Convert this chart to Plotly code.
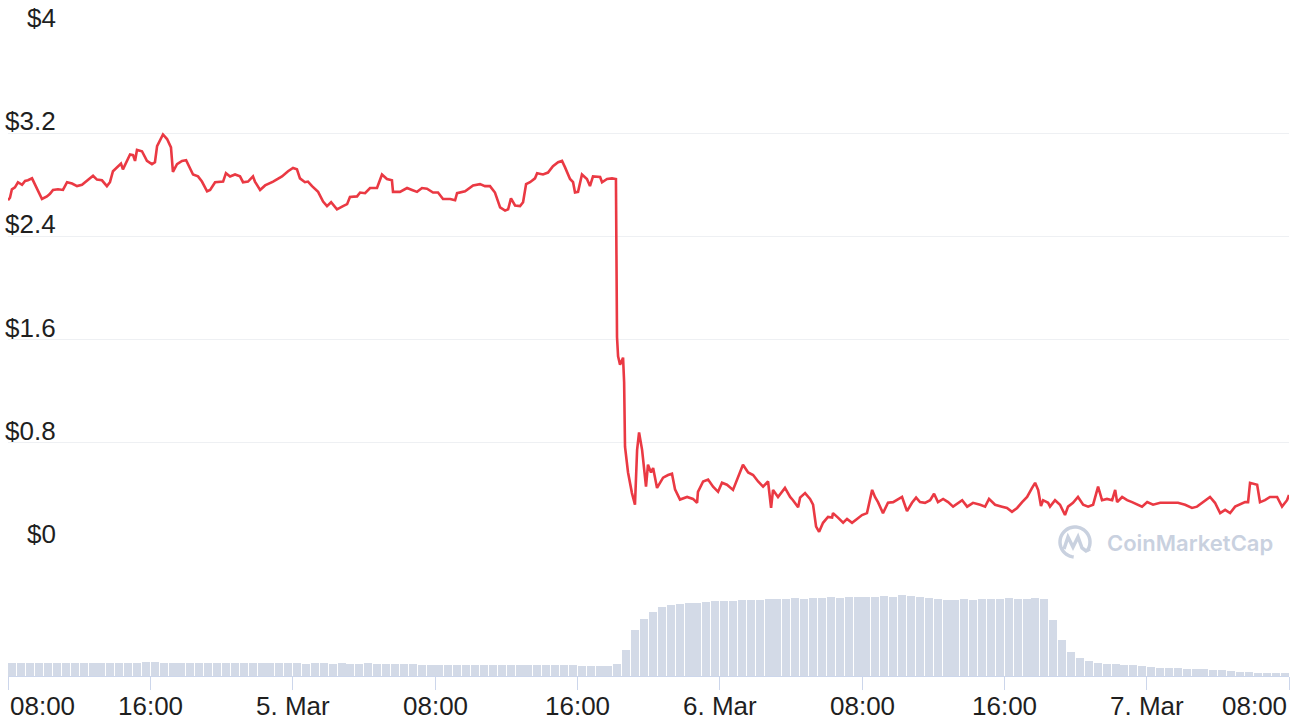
import math
import pandas as pd
import plotly.graph_objects as go

# ---------------- data ----------------
start_time = "2024-03-04 08:00"

price_hours = [
    0.00, 0.11, 0.22, 0.39, 0.56, 0.79, 0.96, 1.12, 1.35, 1.52, 1.69, 1.91, 2.19, 2.36, 2.53, 2.81,
    3.09, 3.32, 3.60, 3.88, 4.16, 4.50, 4.78, 5.00, 5.28, 5.56, 5.73, 5.90, 6.13, 6.35, 6.46, 6.63,
    6.86, 7.03, 7.14, 7.25, 7.53, 7.81, 8.09, 8.26, 8.38, 8.71, 8.94, 9.16, 9.27, 9.50, 9.78, 10.01,
    10.23, 10.40, 10.68, 10.90, 11.19, 11.36, 11.64, 11.92, 12.09, 12.25, 12.48, 12.76, 13.04, 13.21,
    13.49, 13.77, 13.88, 14.17, 14.45, 14.90, 15.40, 15.74, 16.02, 16.24, 16.41, 16.69, 16.86, 17.09,
    17.43, 17.71, 17.93, 18.16, 18.49, 18.83, 19.06, 19.22, 19.62, 19.79, 20.07, 20.35, 20.74, 21.02,
    21.30, 21.58, 21.64, 22.03, 22.43, 22.71, 22.99, 23.27, 23.55, 23.89, 24.17, 24.45, 24.85, 25.13,
    25.24, 25.69, 25.97, 26.14, 26.53, 26.81, 27.09, 27.37, 27.66, 27.94, 28.11, 28.27, 28.50, 28.78,
    28.95, 29.12, 29.34, 29.62, 29.74, 30.07, 30.35, 30.63, 30.92, 31.14, 31.31, 31.59, 31.76, 31.87,
    32.04, 32.26, 32.54, 32.71, 32.88, 33.28, 33.39, 33.67, 33.95, 34.17, 34.23, 34.29, 34.40, 34.57,
    34.63, 34.68, 34.85, 35.07, 35.24, 35.36, 35.47, 35.64, 35.86, 35.97, 36.14, 36.26, 36.48, 36.82,
    37.10, 37.32, 37.49, 37.77, 38.17, 38.50, 38.73, 38.78, 39.07, 39.35, 39.63, 39.91, 40.13, 40.41,
    40.75, 40.98, 41.31, 41.60, 41.88, 42.16, 42.44, 42.72, 42.89, 43.00, 43.28, 43.67, 43.96, 44.12,
    44.41, 44.52, 44.80, 45.08, 45.25, 45.42, 45.59, 45.81, 46.09, 46.32, 46.37, 46.65, 46.94, 47.16,
    47.44, 47.72, 48.00, 48.28, 48.57, 48.73, 48.90, 49.18, 49.46, 49.75, 50.03, 50.25, 50.53, 50.81,
    51.04, 51.26, 51.54, 51.83, 52.05, 52.27, 52.56, 52.84, 53.12, 53.40, 53.63, 53.91, 54.24, 54.64,
    54.92, 55.14, 55.48, 55.87, 56.15, 56.43, 56.72, 57.00, 57.28, 57.56, 57.73, 57.90, 58.06, 58.18,
    58.46, 58.57, 58.85, 59.13, 59.41, 59.58, 59.86, 60.14, 60.43, 60.71, 60.99, 61.27, 61.49, 61.77,
    62.06, 62.23, 62.34, 62.62, 62.90, 63.18, 63.46, 63.74, 64.03, 64.36, 64.76, 65.15, 65.43, 65.76,
    66.16, 66.55, 66.83, 67.17, 67.56, 67.84, 68.13, 68.41, 68.69, 68.97, 69.25, 69.53, 69.70, 69.81,
    70.21, 70.37, 70.65, 70.93, 71.33, 71.61, 71.89, 72.00,
]

price_usd = [
    2.68, 2.70, 2.765, 2.78, 2.82, 2.80, 2.83, 2.835, 2.85, 2.80, 2.75, 2.69, 2.71, 2.73, 2.76, 2.765,
    2.76, 2.82, 2.81, 2.79, 2.80, 2.84, 2.87, 2.84, 2.835, 2.79, 2.82, 2.905, 2.935, 2.965, 2.92, 2.975,
    3.035, 3.03, 2.985, 3.07, 3.06, 2.985, 2.96, 2.975, 3.10, 3.19, 3.155, 3.09, 2.90, 2.96, 2.985, 2.99,
    2.92, 2.88, 2.865, 2.825, 2.75, 2.76, 2.82, 2.82, 2.825, 2.89, 2.865, 2.88, 2.865, 2.82,
    2.825, 2.865, 2.825, 2.76, 2.795, 2.825, 2.865, 2.905, 2.93, 2.92, 2.85, 2.82, 2.825, 2.79,
    2.745, 2.67, 2.635, 2.665, 2.61, 2.635, 2.65, 2.705, 2.71, 2.74, 2.735, 2.775, 2.775, 2.88,
    2.845, 2.835, 2.745, 2.745, 2.775, 2.76, 2.745, 2.775, 2.77, 2.74, 2.74, 2.69, 2.69, 2.68,
    2.735, 2.75, 2.775, 2.795, 2.805, 2.79, 2.79, 2.74, 2.625, 2.60, 2.61, 2.695, 2.64, 2.635,
    2.665, 2.805, 2.82, 2.85, 2.89, 2.88, 2.895, 2.945, 2.975, 2.985, 2.935, 2.845, 2.82, 2.74,
    2.745, 2.88, 2.845, 2.79, 2.865, 2.86, 2.82, 2.845, 2.85, 2.845, 1.62, 1.47, 1.405, 1.46,
    1.27, 0.77, 0.57, 0.41, 0.32, 0.745, 0.88, 0.745, 0.46, 0.63, 0.57, 0.605, 0.45, 0.53,
    0.55, 0.56, 0.44, 0.36, 0.38, 0.365, 0.335, 0.42, 0.50, 0.515, 0.46, 0.42, 0.49, 0.475,
    0.435, 0.51, 0.63, 0.57, 0.55, 0.50, 0.46, 0.50, 0.295, 0.435, 0.38, 0.45, 0.38, 0.355,
    0.30, 0.375, 0.41, 0.365, 0.32, 0.15, 0.11, 0.18, 0.225, 0.22, 0.255, 0.22, 0.18, 0.21,
    0.18, 0.21, 0.24, 0.255, 0.435, 0.38, 0.34, 0.255, 0.335, 0.34, 0.365, 0.38, 0.27, 0.335,
    0.375, 0.34, 0.335, 0.355, 0.405, 0.34, 0.365, 0.34, 0.305, 0.335, 0.355, 0.305, 0.335, 0.32,
    0.305, 0.365, 0.32, 0.305, 0.295, 0.265, 0.295, 0.34, 0.38, 0.45, 0.49, 0.435, 0.31, 0.355,
    0.335, 0.305, 0.355, 0.32, 0.24, 0.305, 0.335, 0.38, 0.32, 0.305, 0.32, 0.46, 0.355, 0.365,
    0.355, 0.435, 0.34, 0.38, 0.355, 0.34, 0.32, 0.305, 0.34, 0.32, 0.335, 0.335, 0.34, 0.335,
    0.32, 0.295, 0.305, 0.34, 0.38, 0.335, 0.255, 0.28, 0.255, 0.305, 0.32, 0.34, 0.34, 0.49,
    0.475, 0.34, 0.355, 0.38, 0.38, 0.305, 0.355, 0.395,
]

# 24h volume, one value per 30 minutes (millions USD, hidden axis)
volume_musd = [
    26, 26, 26, 27, 26, 26, 26, 27, 26, 26, 27, 26, 26, 27, 27, 28,
    28, 27, 27, 26, 26, 27, 26, 26, 27, 26, 26, 26, 26, 27, 26, 26,
    26, 25, 26, 26, 25, 26, 25, 25, 26, 25, 25, 25, 25, 24, 23, 23,
    22, 23, 22, 22, 23, 22, 22, 22, 22, 23, 22, 22, 22, 23, 22, 22,
    21, 21, 20, 20, 24, 52, 92, 114, 128, 138, 142, 144, 146, 146, 148, 150,
    150, 150, 152, 152, 152, 154, 154, 154, 156, 154, 156, 156, 158, 156, 158, 158,
    158, 158, 160, 158, 162, 160, 158, 156, 154, 152, 152, 154, 152, 154, 154, 154,
    156, 154, 154, 156, 154, 112, 72, 48, 36, 30, 26, 25, 24, 23, 22, 21,
    18, 17, 16, 16, 15, 14, 14, 13, 12, 11, 9, 8, 7, 6, 6, 6,
]
volume_bin_hours = 0.5

price_ticks = [0, 0.8, 1.6, 2.4, 3.2, 4]
price_tick_labels = ["$0", "$0.8", "$1.6", "$2.4", "$3.2", "$4"]
time_tick_hours = [0, 8, 16, 24, 32, 40, 48, 56, 64, 72]
time_tick_labels = ["08:00", "16:00", "5. Mar", "08:00", "16:00", "6. Mar", "08:00", "16:00", "7. Mar", "08:00"]

# ---------------- build ----------------
t0 = pd.Timestamp(start_time)
price_time = [t0 + pd.Timedelta(hours=h) for h in price_hours]
vol_time = [t0 + pd.Timedelta(hours=(i + 0.5) * volume_bin_hours) for i in range(len(volume_musd))]
tick_time = [t0 + pd.Timedelta(hours=h) for h in time_tick_hours]
x_end = t0 + pd.Timedelta(hours=72)

W, H = 1292, 724
ML, MR, MT, MB = 8, 3, 30, 48
PW, PH = W - ML - MR, H - MT - MB
price_bottom_px = 546
price_dom0 = (H - MB - price_bottom_px) / PH

LABEL_FONT = "Liberation Sans, Arial, Helvetica, sans-serif"
TXT = "#1f1f1f"

fig = go.Figure()
fig.add_trace(go.Bar(
    x=vol_time, y=volume_musd, yaxis="y2",
    marker=dict(color="#d3dae7", line=dict(width=0)),
    width=volume_bin_hours * 3600 * 1000 * 0.9,
    hoverinfo="skip", showlegend=False,
))
fig.add_trace(go.Scatter(
    x=price_time, y=price_usd, mode="lines",
    line=dict(color="#ea3943", width=2.6),
    showlegend=False, hoverinfo="x+y",
))


def pp(x, y):
    return (x - ML) / PW, (H - MB - y) / PH


annotations = []
lab_x = pp(58, 0)[0]
for v, lab in zip(price_ticks, price_tick_labels):
    annotations.append(dict(
        x=lab_x, xref="paper", y=v, yref="y", text=lab, showarrow=False,
        xanchor="right", yanchor="bottom", yshift=-5,
        font=dict(family=LABEL_FONT, size=26, color=TXT),
    ))
for i, (t, lab) in enumerate(zip(tick_time, time_tick_labels)):
    anchor = "left" if i == 0 else ("right" if i == len(tick_time) - 1 else "center")
    annotations.append(dict(
        x=t, xref="x", y=0, yref="paper", text=lab, showarrow=False,
        xanchor=anchor, yanchor="middle", yshift=-30,
        font=dict(family=LABEL_FONT, size=26, color=TXT),
    ))
wx, wy = pp(1105, 543)
annotations.append(dict(
    x=wx, y=wy, xref="paper", yref="paper", text="CoinMarketCap", showarrow=False,
    xanchor="left", yanchor="middle",
    font=dict(family="Inter, Noto Sans, sans-serif", size=22, color="#c9d1df", weight=600),
))

cx, cy, r = 1075, 542, 15
arc_pts = []
for k in range(0, 41):
    a = math.radians(-35 + k * (300 / 40))
    arc_pts.append(pp(cx + r * math.cos(a), cy - r * math.sin(a)))
arc_path = "M " + " L ".join(f"{x:.5f},{y:.5f}" for x, y in arc_pts)
m_pts = [(1064, 549), (1068, 537), (1073, 547), (1078, 537), (1082, 548), (1086, 551), (1090, 549)]
m_path = "M " + " L ".join(f"{x:.5f},{y:.5f}" for x, y in (pp(a, b) for a, b in m_pts))
shapes = [
    dict(type="path", path=arc_path, xref="paper", yref="paper", line=dict(color="#c9d1df", width=3.5), layer="above"),
    dict(type="path", path=m_path, xref="paper", yref="paper", line=dict(color="#c9d1df", width=3.5), layer="above"),
]

fig.update_layout(
    width=W, height=H,
    margin=dict(l=ML, r=MR, t=MT, b=MB, pad=0),
    paper_bgcolor="white", plot_bgcolor="white",
    bargap=0,
    xaxis=dict(
        anchor="y2",
        range=[t0, x_end], tickvals=tick_time, showticklabels=False,
        ticks="outside", ticklen=13, tickcolor="#ccd6eb", tickwidth=1,
        showline=True, linecolor="#ccd6eb", linewidth=1,
        showgrid=False, zeroline=False, fixedrange=True,
    ),
    yaxis=dict(
        domain=[price_dom0, 1], range=[0, 4], tickvals=price_ticks, showticklabels=False,
        showgrid=True, gridcolor="#eef0f3", gridwidth=1, zeroline=False, fixedrange=True,
    ),
    yaxis2=dict(
        domain=[0, 0.2], range=[0, 258], showticklabels=False, showgrid=False,
        zeroline=False, fixedrange=True,
    ),
    annotations=annotations,
    shapes=shapes,
)

fig.write_html(
    "out.html",
    config={"displayModeBar": False},
    post_script="document.body.style.margin='0px';",
)
